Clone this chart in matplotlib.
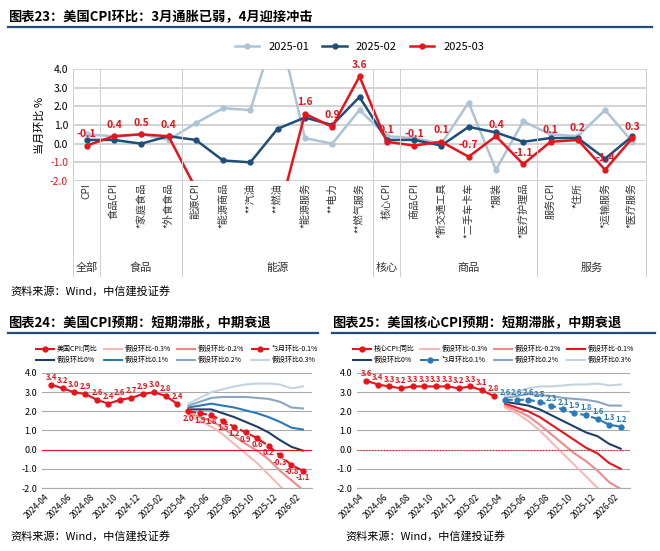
import matplotlib.pyplot as plt
import numpy as np

plt.rcParams['font.family'] = 'Noto Sans CJK SC'

RED = '#e8141c'
NAVY = '#1f4e79'
LIGHT = '#adc4d6'

# ---- 图表23 数据 ----
cats = ['CPI', '食品CPI', '*家庭食品', '*外食食品', '能源CPI', '*能源商品', '**汽油', '**燃油',
        '*能源服务', '**电力', '**燃气服务', '核心CPI', '商品CPI', '*新交通工具', '*二手车卡车',
        '*服装', '*医疗护理品', '服务CPI', '*住所', '*运输服务', '*医疗服务']
groups = [('全部', 1), ('食品', 3), ('能源', 7), ('核心', 1), ('商品', 5), ('服务', 4)]
m01 = [0.5, 0.4, 0.5, 0.2, 1.1, 1.9, 1.8, 6.5, 0.3, 0.0, 1.8, 0.4, 0.3, 0.0, 2.2, -1.4, 1.2, 0.5, 0.4, 1.8, 0.1]
m02 = [0.2, 0.2, 0.0, 0.4, 0.2, -0.9, -1.0, 0.8, 1.4, 1.0, 2.5, 0.2, 0.2, -0.1, 0.9, 0.6, 0.1, 0.3, 0.3, -0.8, 0.4]
m03 = [-0.1, 0.4, 0.5, 0.4, -2.4, -5.0, -6.3, -4.0, 1.6, 0.9, 3.6, 0.1, -0.1, 0.1, -0.7, 0.4, -1.1, 0.1, 0.2, -1.4, 0.3]

# ---- 图表24/25 数据 ----
months = ['2024-04', '2024-05', '2024-06', '2024-07', '2024-08', '2024-09', '2024-10', '2024-11',
          '2024-12', '2025-01', '2025-02', '2025-03', '2025-04', '2025-05', '2025-06', '2025-07',
          '2025-08', '2025-09', '2025-10', '2025-11', '2025-12', '2026-01', '2026-02']
cpi_hist = [3.4, 3.2, 3.0, 2.9, 2.6, 2.4, 2.6, 2.7, 2.9, 3.0, 2.8, 2.4]
cpi_s = {
    '-0.3': [1.8, 1.5, 1.2, 0.8, 0.3, -0.2, -0.7, -1.3, -1.9, -2.5, -3.1],
    '-0.2': [1.9, 1.7, 1.5, 1.15, 0.7, 0.3, -0.05, -0.5, -1.1, -1.6, -2.1],
    '-0.1': [2.0, 1.9, 1.8, 1.5, 1.2, 0.9, 0.6, 0.2, -0.3, -0.8, -1.1],
    '0': [2.1, 2.1, 2.1, 1.9, 1.7, 1.45, 1.2, 0.9, 0.5, 0.15, -0.05],
    '0.1': [2.2, 2.3, 2.4, 2.3, 2.2, 2.05, 1.9, 1.7, 1.45, 1.15, 1.05],
    '0.2': [2.3, 2.5, 2.7, 2.75, 2.75, 2.75, 2.7, 2.65, 2.5, 2.2, 2.15],
    '0.3': [2.4, 2.7, 3.0, 3.15, 3.3, 3.4, 3.45, 3.45, 3.4, 3.2, 3.3],
}
core_hist = [3.6, 3.4, 3.3, 3.2, 3.3, 3.3, 3.3, 3.3, 3.2, 3.3, 3.1, 2.8]
core_s = {
    '-0.3': [2.2, 1.9, 1.5, 1.0, 0.4, -0.2, -0.8, -1.4, -2.0, -2.6, -3.2],
    '-0.2': [2.3, 2.05, 1.75, 1.3, 0.8, 0.3, -0.2, -0.6, -1.1, -1.7, -2.05],
    '-0.1': [2.4, 2.2, 2.0, 1.7, 1.3, 0.9, 0.5, 0.1, -0.2, -0.7, -1.0],
    '0': [2.5, 2.4, 2.3, 2.1, 1.8, 1.5, 1.2, 0.9, 0.7, 0.3, 0.05],
    '0.1': [2.6, 2.6, 2.6, 2.5, 2.3, 2.1, 1.9, 1.8, 1.6, 1.3, 1.2],
    '0.2': [2.7, 2.8, 2.9, 2.85, 2.8, 2.7, 2.65, 2.6, 2.5, 2.3, 2.3],
    '0.3': [2.8, 3.0, 3.2, 3.3, 3.3, 3.35, 3.4, 3.4, 3.45, 3.35, 3.4],
}
s_colors = {'-0.3': '#f8b8b8', '-0.2': '#f08a8a', '-0.1': RED, '0': '#1f3f6a',
            '0.1': '#2a7ab8', '0.2': '#8aa6c0', '0.3': '#c3d3e0'}

W, H = 660, 551
fig = plt.figure(figsize=(6.6, 5.51), dpi=100)


def ax_px(x0, y0, x1, y1):
    return fig.add_axes([x0 / W, 1 - y1 / H, (x1 - x0) / W, (y1 - y0) / H])


def title(x, y, text, x1):
    fig.text(x / W, 1 - y / H, text, fontsize=9.5, fontweight='bold', va='center')
    fig.add_artist(plt.Line2D([x / W, x1 / W], [1 - (y + 10) / H] * 2, color='#1f4e79', lw=1.6))


title(8, 17, '图表23：美国CPI环比：3月通胀已弱，4月迎接冲击', 652)
title(8, 323, '图表24：美国CPI预期：短期滞胀，中期衰退', 318)
title(332, 323, '图表25：美国核心CPI预期：短期滞胀，中期衰退', 655)
fig.text(10 / W, 1 - 292 / H, '资料来源：Wind，中信建投证券', fontsize=8, style='italic', va='center')
fig.text(10 / W, 1 - 537 / H, '资料来源：Wind，中信建投证券', fontsize=8, style='italic', va='center')
fig.text(345 / W, 1 - 537 / H, '资料来源：Wind，中信建投证券', fontsize=8, style='italic', va='center')

# ---- 图表23 ----
ax = ax_px(73, 69, 646, 181)
x = np.arange(len(cats))
ax.plot(x, m01, color=LIGHT, lw=1.8, marker='o', ms=3.5, label='2025-01')
ax.plot(x, m02, color=NAVY, lw=1.8, marker='o', ms=3.5, label='2025-02')
ax.plot(x, m03, color=RED, lw=1.8, marker='o', ms=3.5, label='2025-03')
for i, v in enumerate(m03):
    if -2 <= v <= 4:
        ax.text(i, v + 0.35, f'{v:.1f}', color=RED, fontsize=7.5, fontweight='bold', ha='center', va='bottom')
ax.set_ylim(-2, 4)
ax.set_xlim(-0.5, len(cats) - 0.5)
ax.set_yticks(np.arange(-2, 4.1, 1))
ax.set_yticklabels([f'{v:.1f}' for v in np.arange(-2, 4.1, 1)], fontsize=7.5)
for t in ax.get_yticklabels():
    if t.get_text().startswith('-'):
        t.set_color(RED)
ax.set_ylabel('当月环比 %', fontsize=8)
ax.grid(axis='y', color='#cccccc', lw=1.2)
ax.set_xticks([])
for s in ax.spines.values():
    s.set_visible(False)
ax.tick_params(length=0)
for i, c in enumerate(cats):
    ax.text(i, -2.1, c, rotation=90, ha='center', va='top', fontsize=7.3, color='#333333',
            linespacing=0.9)
edges = np.cumsum([0] + [g[1] for g in groups]) - 0.5
for e in edges:
    ax.plot([e, e], [4, -7.1], color='#d0d0d0', lw=0.7, clip_on=False)
for (g, n), e in zip(groups, edges):
    ax.text(e + n / 2, -6.65, g, ha='center', va='center', fontsize=8, color='#333333')
ax.legend(loc='lower center', bbox_to_anchor=(0.5, 1.06), ncol=3, frameon=False, fontsize=8,
          handlelength=2.2, columnspacing=1.2)


# ---- 图表24/25 ----
def proj_chart(ax, hist, scen, dashed, dash_color, hist_label):
    nh = len(hist)
    xh = np.arange(nh)
    xf = np.arange(nh, len(months))
    handles = {}
    for k in ['-0.3', '-0.2', '-0.1', '0', '0.1', '0.2', '0.3']:
        if k == dashed:
            h, = ax.plot(xf, scen[k], color=dash_color, lw=1.5, ls='--', marker='o', ms=3.5, zorder=4)
            for xi, v in zip(xf, scen[k]):
                below = dash_color == RED
                ax.text(xi, v - 0.12 if below else v + 0.15, f'{v:.1f}', color=dash_color,
                        fontsize=5.5, fontweight='bold', style='italic', ha='center',
                        va='top' if below else 'bottom', zorder=5)
        else:
            h, = ax.plot(xf, scen[k], color=s_colors[k], lw=1.5)
        handles[k] = h
    hh, = ax.plot(xh, hist, color=RED, lw=1.5, marker='o', ms=3.5)
    for xi, v in zip(xh, hist):
        ax.text(xi, v + 0.15, f'{v:.1f}', color=RED, fontsize=5.5, fontweight='bold', ha='center', va='bottom')
    ax.axhline(0, color=RED, lw=0.8, ls='-' if dash_color == RED else ':')
    ax.set_ylim(-2, 4)
    ax.set_xlim(-0.8, len(months) - 0.2)
    ax.set_yticks(np.arange(-2, 4.1, 1))
    ax.set_yticklabels([f'{v:.1f}' for v in np.arange(-2, 4.1, 1)], fontsize=6.5)
    ax.set_xticks(np.arange(0, len(months), 2))
    ax.set_xticklabels(months[::2], rotation=45, ha='right', fontsize=6)
    ax.grid(axis='y', color='#aaaaaa', lw=0.8)
    ax.tick_params(length=0)
    for s in ['top', 'right', 'left']:
        ax.spines[s].set_visible(False)
    ax.spines['bottom'].set_color('#aaaaaa')
    names = {'-0.3': '假设环比-0.3%', '-0.2': '假设环比-0.2%', '-0.1': '假设环比-0.1%', '0': '假设环比0%',
             '0.1': '假设环比0.1%', '0.2': '假设环比0.2%', '0.3': '假设环比0.3%'}
    names[dashed] = '*3月环比' + names[dashed][4:]
    row_h = [hh] + [handles[k] for k in ['-0.3', '-0.2', '-0.1', '0', '0.1', '0.2', '0.3']]
    row_l = [hist_label] + [names[k] for k in ['-0.3', '-0.2', '-0.1', '0', '0.1', '0.2', '0.3']]
    idx = [0, 4, 1, 5, 2, 6, 3, 7]  # 按行排列
    ax.legend([row_h[i] for i in idx], [row_l[i] for i in idx], loc='lower center',
              bbox_to_anchor=(0.5, 1.02), ncol=4, frameon=False, fontsize=5,
              handlelength=2.6, columnspacing=0.9, handletextpad=0.4, labelspacing=0.5)


ax24 = ax_px(42, 373, 312, 488)
proj_chart(ax24, cpi_hist, cpi_s, '-0.1', RED, '美国CPI:同比')
ax25 = ax_px(357, 373, 630, 488)
proj_chart(ax25, core_hist, core_s, '0.1', '#2a7ab8', '核心CPI:同比')

fig.savefig('out.png', dpi=100)
